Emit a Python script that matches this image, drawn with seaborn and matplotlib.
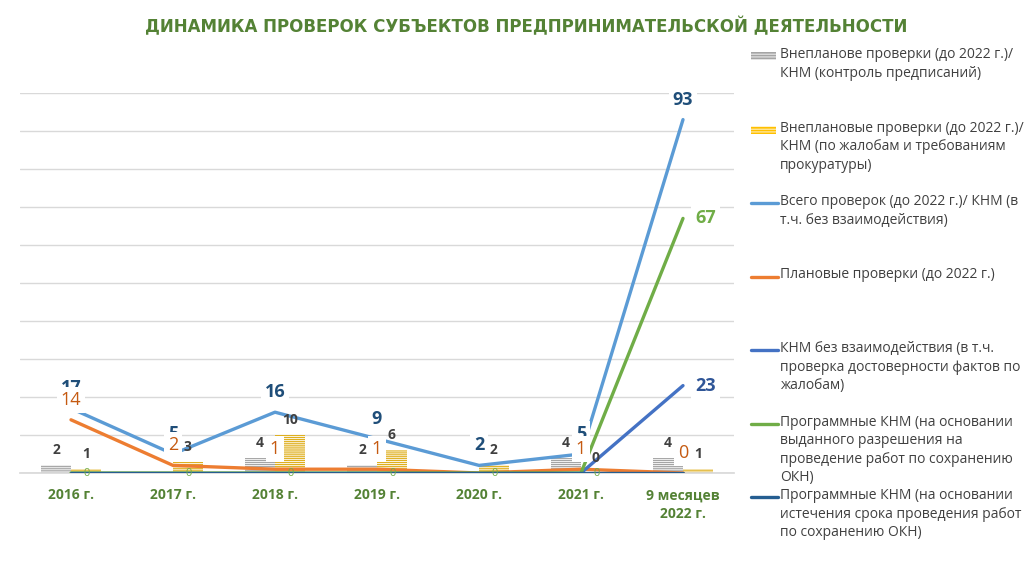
import numpy as np
import pandas as pd
import seaborn as sns
import matplotlib.pyplot as plt
from matplotlib.lines import Line2D
from matplotlib.patches import Rectangle

years = ['2016 г.', '2017 г.', '2018 г.', '2019 г.', '2020 г.', '2021 г.', '9 месяцев\n2022 г.']

# bars
unplanned_orders = [2, np.nan, 4, 2, np.nan, 4, 4]     # Внеплановые (контроль предписаний)
unplanned_complaints = [1, 3, 10, 6, 2, 0, 1]          # Внеплановые (по жалобам)
# lines
total_checks = [17, 5, 16, 9, 2, 5, 93]
planned_checks = [14, 2, 1, 1, 0, 1, 0]
knm_no_interaction = [np.nan, np.nan, np.nan, np.nan, np.nan, 0, 23]
program_permit = [0, 0, 0, 0, 0, 0, 67]
program_expiry = [0, 0, 0, 0, 0, 0, 0]

legend_labels = [
    'Внепланове проверки (до 2022 г.)/\nКНМ (контроль предписаний)',
    'Внеплановые проверки (до 2022 г.)/\nКНМ (по жалобам и требованиям\nпрокуратуры)',
    'Всего проверок (до 2022 г.)/ КНМ (в\nт.ч. без взаимодействия)',
    'Плановые проверки (до 2022 г.)',
    'КНМ без взаимодействия (в т.ч.\nпроверка достоверности фактов по\nжалобам)',
    'Программные КНМ (на основании\nвыданного разрешения на\nпроведение работ по сохранению\nОКН)',
    'Программные КНМ (на основании\nистечения срока проведения работ\nпо сохранению ОКН)',
]

GRAY, YELLOW = '#A5A5A5', '#FFC000'
C_TOTAL, C_PLAN, C_KNM, C_PERMIT, C_EXPIRY = '#5B9BD5', '#ED7D31', '#4472C4', '#70AD47', '#255E91'

sns.set_theme(style='white')
plt.rcParams['font.family'] = ['Open Sans', 'DejaVu Sans']
plt.rcParams['hatch.linewidth'] = 0.6

fig = plt.figure(figsize=(10.29, 5.65), dpi=100)
ax = fig.add_axes([20 / 1029, 1 - 473 / 565, 714 / 1029, 380 / 565])

bars = pd.DataFrame({
    'year': years * 2,
    'value': unplanned_orders + unplanned_complaints,
    'series': ['orders'] * 7 + ['complaints'] * 7,
}).dropna()
sns.barplot(data=bars, x='year', y='value', hue='series', order=years,
            hue_order=['orders', 'complaints'], palette=[GRAY, YELLOW],
            width=0.58, legend=False, ax=ax, zorder=2)
for p in ax.patches:
    p.set_hatch('--------')
    p.set_edgecolor('white')
    p.set_linewidth(0)

x = np.arange(len(years))
line_series = [(total_checks, C_TOTAL), (planned_checks, C_PLAN), (knm_no_interaction, C_KNM),
               (program_permit, C_PERMIT), (program_expiry, C_EXPIRY)]
for vals, col in line_series:
    sns.lineplot(x=x, y=vals, color=col, linewidth=2.4, ax=ax, zorder=3)

ax.set_xlim(-0.5, 6.5)
ax.set_ylim(0, 100)
ax.set_yticks(range(0, 101, 10))
ax.yaxis.grid(True, color='#D9D9D9', linewidth=1)
ax.set_axisbelow(True)
ax.set_yticklabels([])
ax.tick_params(axis='y', length=0)
ax.tick_params(axis='x', length=0, pad=11)
for s in ['top', 'right', 'left']:
    ax.spines[s].set_visible(False)
ax.spines['bottom'].set_color('#D9D9D9')
ax.set_xlabel('')
ax.set_ylabel('')
ax.set_xticks(x)
ax.set_xticklabels(years, color='#548235', fontweight='bold', fontsize=10, linespacing=1.45)

box = dict(boxstyle='square,pad=0.22', fc='white', ec='none')

def label(xv, yv, txt, color, size, weight, dx=0, dy=20, ha='center', bbox=box):
    ax.annotate(txt, (xv, yv), xytext=(dx, dy), textcoords='offset pixels',
                ha=ha, va='center', color=color, fontsize=size, fontweight=weight,
                bbox=bbox, zorder=6)

bw = 0.145
for i, v in enumerate(unplanned_orders):
    if not np.isnan(v):
        label(i - bw, v, f'{v:g}', '#404040', 10, 'bold', dy=15, bbox=None)
for i, v in enumerate(unplanned_complaints):
    label(i + bw, v, f'{v:g}', '#404040', 10, 'bold', dy=15, bbox=None)
for i, v in enumerate(total_checks):
    label(i, v, f'{v:g}', '#1F4E79', 13, 'bold')
for i, v in enumerate(planned_checks):
    if i != 4:
        label(i, v, f'{v:g}', '#C55A11', 13, 'normal')
for i, v in enumerate(program_permit):
    if i < 6:
        label(i, v, f'{v:g}', C_PERMIT, 8, 'normal', dx=12, dy=0, ha='left', bbox=None)
    else:
        label(i, v, f'{v:g}', C_PERMIT, 13, 'bold', dx=12, dy=0, ha='left')
label(6, knm_no_interaction[6], f'{knm_no_interaction[6]:g}', '#2F5597', 13, 'bold', dx=12, dy=0, ha='left')

fig.text(526 / 1029, 1 - 27 / 565, 'ДИНАМИКА ПРОВЕРОК СУБЪЕКТОВ ПРЕДПРИНИМАТЕЛЬСКОЙ ДЕЯТЕЛЬНОСТИ',
         ha='center', va='center', color='#548235', fontsize=12, fontweight='bold',
         family=['DejaVu Sans'])

# legend, drawn as fixed slots like the original
for k, txt in enumerate(legend_labels):
    ytop = 47 + k * 73.5
    yc = 1 - (ytop + 9) / 565
    if k < 2:
        fig.add_artist(Rectangle((751 / 1029, yc - 4 / 565), 25 / 1029, 8 / 565,
                                 transform=fig.transFigure, fc=[GRAY, YELLOW][k],
                                 ec='white', lw=0, hatch='------'))
    else:
        col = [C_TOTAL, C_PLAN, C_KNM, C_PERMIT, C_EXPIRY][k - 2]
        fig.add_artist(Line2D([751 / 1029, 778 / 1029], [yc, yc], transform=fig.transFigure,
                              color=col, lw=2.4))
    fig.text(780 / 1029, 1 - ytop / 565, txt, ha='left', va='top', fontsize=10,
             color='#404040', linespacing=1.32)

fig.savefig('out.png', dpi=100)
